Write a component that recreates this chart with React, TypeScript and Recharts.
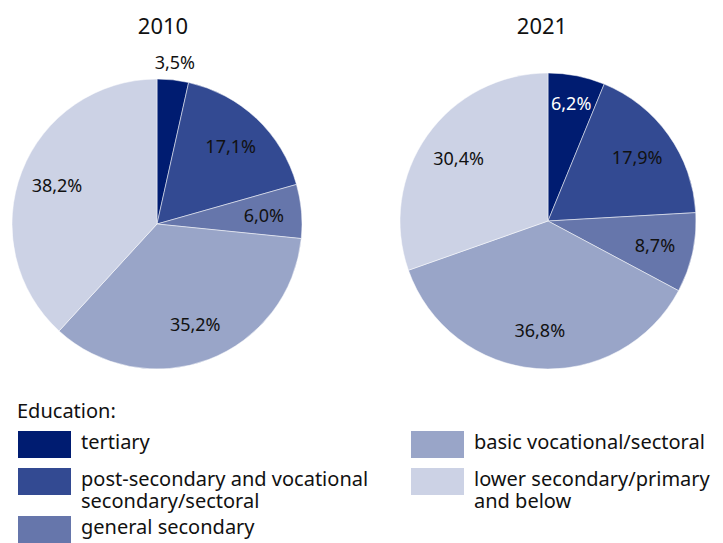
import { Cell, Pie, PieChart } from "recharts";

const categories = [
  "tertiary",
  "post-secondary and vocational secondary/sectoral",
  "general secondary",
  "basic vocational/sectoral",
  "lower secondary/primary and below",
];

const colors = ["#001c71", "#334a92", "#6676ab", "#99a5c8", "#ccd2e5"];

const values2010 = [3.5, 17.1, 6.0, 35.2, 38.2];
const values2021 = [6.2, 17.9, 8.7, 36.8, 30.4];

const years = ["2010", "2021"];

const FONT = "'Noto Sans', sans-serif";
const RADIAN = Math.PI / 180;

const toRows = (values: number[]) =>
  categories.map((name, i) => ({ name, value: values[i] }));

function renderLabel(props: any) {
  const { cx, cy, midAngle, outerRadius, value, index } = props;
  let r = outerRadius * 0.74;
  if (value < 5) r = outerRadius + 18;
  else if (index === 0) r = outerRadius * 0.81;
  const x = cx + r * Math.cos(-midAngle * RADIAN);
  const y = cy + r * Math.sin(-midAngle * RADIAN);
  const inside = value >= 5;
  return (
    <text
      x={x}
      y={y}
      textAnchor="middle"
      dominantBaseline="central"
      fontFamily={FONT}
      fontSize={18}
      fill={inside && index === 0 ? "#ffffff" : "#111111"}
    >
      {value.toFixed(1).replace(".", ",")}%
    </text>
  );
}

// legend rows: first three on the left, last two on the right
const legendTops = [431, 468, 516, 431, 468];

export default function App() {
  return (
    <div
      style={{
        position: "fixed",
        left: 0,
        top: 0,
        width: 723,
        height: 543,
        background: "#fff",
        fontFamily: FONT,
        color: "#111",
        overflow: "hidden",
      }}
    >
      <div style={{ position: "absolute", left: 113, top: 10, width: 100, textAlign: "center", fontSize: 22, lineHeight: "30px" }}>
        {years[0]}
      </div>
      <div style={{ position: "absolute", left: 492, top: 10, width: 100, textAlign: "center", fontSize: 22, lineHeight: "30px" }}>
        {years[1]}
      </div>
      <div style={{ position: "absolute", left: 0, top: 0 }}>
        <PieChart width={723} height={390} margin={{ top: 0, right: 0, bottom: 0, left: 0 }}>
          <Pie
            data={toRows(values2010)}
            dataKey="value"
            nameKey="name"
            cx={157}
            cy={224}
            outerRadius={145}
            startAngle={90}
            endAngle={-270}
            stroke="#ffffff"
            strokeWidth={0.5}
            label={renderLabel}
            labelLine={false}
            isAnimationActive={false}
          >
            {values2010.map((_, i) => (
              <Cell key={i} fill={colors[i]} />
            ))}
          </Pie>
          <Pie
            data={toRows(values2021)}
            dataKey="value"
            nameKey="name"
            cx={548}
            cy={221}
            outerRadius={148}
            startAngle={90}
            endAngle={-270}
            stroke="#ffffff"
            strokeWidth={0.5}
            label={renderLabel}
            labelLine={false}
            isAnimationActive={false}
          >
            {values2021.map((_, i) => (
              <Cell key={i} fill={colors[i]} />
            ))}
          </Pie>
        </PieChart>
      </div>
      <div style={{ position: "absolute", left: 17, top: 398, fontSize: 20, lineHeight: "26px" }}>
        Education:
      </div>
      {categories.map((name, i) => {
        const left = i < 3 ? 18 : 411;
        const textWidth = i < 3 ? 295 : 245;
        return (
          <div key={name} style={{ position: "absolute", left, top: legendTops[i], display: "flex" }}>
            <div style={{ width: 53, height: 27, background: colors[i], flexShrink: 0 }} />
            <div style={{ marginLeft: 10, width: textWidth, fontSize: 20, lineHeight: "22px" }}>
              {name}
            </div>
          </div>
        );
      })}
    </div>
  );
}
